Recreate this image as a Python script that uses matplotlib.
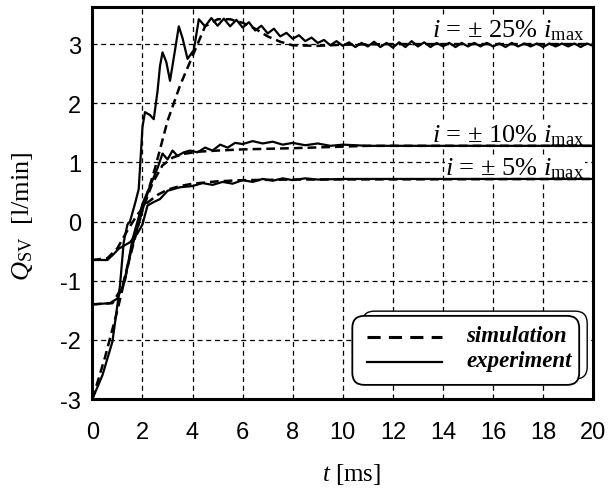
import matplotlib
matplotlib.use('Agg')
import matplotlib.pyplot as plt
from matplotlib.patches import FancyBboxPatch

plt.rcParams['mathtext.fontset'] = 'custom'
plt.rcParams['mathtext.rm'] = 'Liberation Serif'
plt.rcParams['mathtext.it'] = 'Liberation Serif:italic'

# simulation curves (dashed)
sim25_t = [0, 0.5, 1.0, 1.5, 2.0, 2.5, 3.0, 3.5, 4.0, 4.5, 5.0, 5.5, 6.0, 6.5, 7.0, 7.5, 8.0, 9.0, 10.0, 12.0, 20.0]
sim25_q = [-3.0, -2.3, -1.5, -0.6, 0.2, 0.9, 1.7, 2.3, 2.8, 3.3, 3.42, 3.42, 3.36, 3.26, 3.13, 3.04, 2.98, 2.97, 2.99, 3.0, 3.0]
sim10_t = [0, 0.8, 1.2, 1.6, 2.0, 2.4, 2.8, 3.2, 3.6, 4.2, 5.0, 6.0, 8.0, 11.0, 20.0]
sim10_q = [-1.4, -1.38, -1.1, -0.4, 0.2, 0.65, 0.95, 1.08, 1.14, 1.18, 1.2, 1.22, 1.24, 1.28, 1.28]
sim05_t = [0, 0.6, 1.0, 1.4, 1.8, 2.2, 2.6, 3.0, 3.5, 4.0, 5.0, 6.0, 8.0, 20.0]
sim05_q = [-0.65, -0.62, -0.45, -0.15, 0.12, 0.32, 0.45, 0.54, 0.6, 0.64, 0.68, 0.7, 0.71, 0.72]

# experiment curves (solid)
exp25_t = [0, 0.4, 0.8, 1.1, 1.25, 1.4, 1.5, 1.7, 1.85, 2.0, 2.1, 2.3, 2.45, 2.6, 2.7, 2.8, 2.95, 3.1, 3.3, 3.45, 3.6, 3.8, 4.05,
           4.25, 4.5, 4.75, 5.0, 5.25, 5.5, 5.75, 6.0, 6.25, 6.5, 6.75, 7.0, 7.25, 7.5, 7.75, 8.0, 8.25, 8.5, 8.75, 9.0,
           9.25, 9.5, 9.75, 10.0, 10.25, 10.5, 10.75, 11.0, 11.25, 11.5, 11.75, 12.0, 12.25, 12.5, 12.75, 13.0, 13.25,
           13.5, 13.75, 14.0, 14.25, 14.5, 14.75, 15.0, 15.25, 15.5, 15.75, 16.0, 16.25, 16.5, 16.75, 17.0, 17.25,
           17.5, 17.75, 18.0, 18.25, 18.5, 18.75, 19.0, 19.25, 19.5, 19.75, 20.0]
exp25_q = [-3.0, -2.6, -2.03, -1.09, -0.35, -0.05, 0.0, 0.3, 0.55, 1.6, 1.85, 1.8, 1.73, 2.2, 2.63, 2.86, 2.7, 2.38, 2.9, 3.3, 3.1, 2.75, 2.9,
           3.42, 3.3, 3.44, 3.31, 3.43, 3.30, 3.41, 3.28, 3.37, 3.23, 3.31, 3.18, 3.26, 3.13, 3.19, 3.09, 3.15, 3.05, 3.11, 3.02,
           3.07, 2.98, 3.05, 2.97, 3.03, 2.95, 3.02, 2.96, 3.04, 2.95, 3.02, 2.94, 3.03, 2.95, 3.05, 2.96, 3.03,
           2.95, 3.02, 2.96, 3.02, 2.95, 3.02, 2.96, 3.02, 2.96, 3.02, 2.96, 3.01, 2.95, 3.02, 2.96, 3.01,
           2.96, 3.01, 2.95, 3.01, 2.96, 3.01, 2.96, 3.01, 2.95, 3.01, 2.97]
exp10_t = [0, 0.7, 1.0, 1.3, 1.6, 1.8, 2.0, 2.2, 2.4, 2.6, 2.8, 3.0, 3.2, 3.4, 3.65, 3.9, 4.2, 4.5, 4.8, 5.1, 5.4, 5.7, 6.0,
           6.4, 6.8, 7.2, 7.6, 8.0, 8.5, 9.0, 9.5, 10.0, 11.0, 12.0, 14.0, 16.0, 18.0, 20.0]
exp10_q = [-1.4, -1.38, -1.3, -1.0, -0.3, 0.0, 0.3, 0.5, 0.7, 0.9, 1.15, 1.05, 1.2, 1.11, 1.17, 1.2, 1.17, 1.25, 1.2, 1.3, 1.25, 1.33, 1.31,
           1.36, 1.32, 1.35, 1.3, 1.33, 1.29, 1.32, 1.28, 1.3, 1.28, 1.28, 1.28, 1.28, 1.28, 1.28]
exp05_t = [0, 0.6, 0.85, 1.05, 1.5, 1.8, 2.0, 2.2, 2.45, 2.7, 3.0, 3.5, 4.0, 4.4, 4.8, 5.2, 5.6, 6.0, 6.4, 6.8, 7.2,
           7.6, 8.0, 8.5, 9.0, 10.0, 12.0, 14.0, 16.0, 18.0, 20.0]
exp05_q = [-0.65, -0.65, -0.55, -0.46, -0.35, -0.2, -0.05, 0.27, 0.33, 0.38, 0.52, 0.58, 0.6, 0.65, 0.62, 0.67, 0.64, 0.7, 0.67, 0.72, 0.69,
           0.73, 0.7, 0.73, 0.71, 0.72, 0.72, 0.72, 0.72, 0.72, 0.72]

xticks = list(range(0, 21, 2))
yticks = [-3, -2, -1, 0, 1, 2, 3]

fig = plt.figure(figsize=(6.16, 4.89), dpi=100)
ax = fig.add_axes([0.150, 0.182, 0.813, 0.802])

for t, q in [(sim25_t, sim25_q), (sim10_t, sim10_q), (sim05_t, sim05_q)]:
    ax.plot(t, q, color='black', lw=1.8, ls=(0, (3.5, 2)))
for t, q in [(exp25_t, exp25_q), (exp10_t, exp10_q), (exp05_t, exp05_q)]:
    ax.plot(t, q, color='black', lw=1.6)

ax.set_xlim(0, 20)
ax.set_ylim(-3, 3.63)
ax.set_xticks(xticks)
ax.set_yticks(yticks)
ax.set_yticklabels([str(v) for v in yticks])
ax.grid(True, color='black', ls=(0, (4, 3)), lw=0.9)
ax.tick_params(length=0, labelsize=17)
ax.tick_params(axis='x', pad=16)
ax.tick_params(axis='y', pad=8)
for lab in ax.get_xticklabels() + ax.get_yticklabels():
    lab.set_fontfamily('Liberation Sans')
for s in ax.spines.values():
    s.set_linewidth(2.2)

ax.set_xlabel(r'$t$ [ms]', fontfamily='Liberation Serif', fontsize=18)
ax.xaxis.label.set_va('center')
ax.xaxis.set_label_coords(0.517, -0.19)
ax.set_ylabel(r'$Q_{\mathrm{SV}}$  [l/min]', fontfamily='Liberation Serif', fontsize=19)
ax.yaxis.label.set_va('center')
ax.yaxis.set_label_coords(-0.14, 0.47)

txt = dict(fontfamily='Liberation Serif', fontsize=19, ha='right', va='center', zorder=1.8,
           bbox=dict(fc='white', ec='none', pad=0.5))
ax.text(19.65, 3.24, r'$i$ = $\pm$ 25% $i_{\mathrm{max}}$', **txt)
ax.text(19.65, 1.47, r'$i$ = $\pm$ 10% $i_{\mathrm{max}}$', **txt)
ax.text(19.65, 0.91, r'$i$ = $\pm$ 5% $i_{\mathrm{max}}$', **txt)

# legend box drawn by hand
asp = 501 / 392
box2 = FancyBboxPatch((0.539, 0.051), 0.449, 0.173, boxstyle='round,pad=0,rounding_size=0.024',
                      mutation_aspect=asp, transform=ax.transAxes, fc='white', ec='black', lw=1.0, zorder=5)
box1 = FancyBboxPatch((0.519, 0.036), 0.453, 0.176, boxstyle='round,pad=0,rounding_size=0.024',
                      mutation_aspect=asp, transform=ax.transAxes, fc='white', ec='black', lw=1.3, zorder=6)
ax.add_patch(box2)
ax.add_patch(box1)
ax.plot([0.549, 0.699], [0.158, 0.158], transform=ax.transAxes, color='black', lw=2.2, ls=(0, (4.3, 2.7)), zorder=7)
ax.plot([0.549, 0.699], [0.094, 0.094], transform=ax.transAxes, color='black', lw=1.6, zorder=7)
lt = dict(transform=ax.transAxes, fontfamily='Liberation Serif', fontsize=16.5, fontweight='bold',
          fontstyle='italic', ha='left', va='center', zorder=7)
ax.text(0.746, 0.162, 'simulation', **lt)
ax.text(0.746, 0.098, 'experiment', **lt)

fig.savefig('out.png', dpi=100)
